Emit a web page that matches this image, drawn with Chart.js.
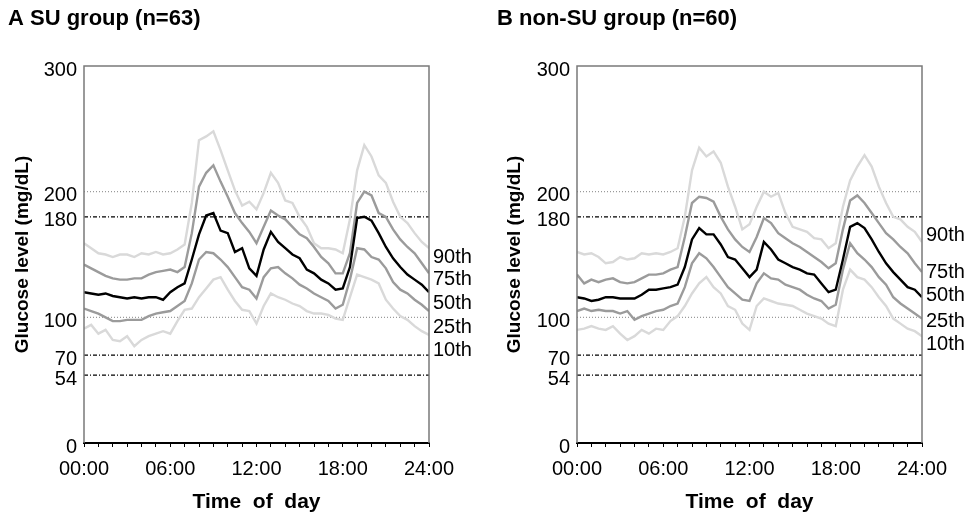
<!DOCTYPE html>
<html>
<head>
<meta charset="utf-8">
<style>
  body { margin: 0; width: 970px; height: 517px; overflow: hidden; background: #fff; }
  canvas { position: absolute; top: 0; }
  #chartA { left: 0; }
  #chartB { left: 493px; }
</style>
</head>
<body>
<canvas id="chartA" width="477" height="517"></canvas>
<canvas id="chartB" width="477" height="517"></canvas>
<script src="https://cdn.jsdelivr.net/npm/chart.js@4.4.1/dist/chart.umd.min.js"></script>
<script>
'use strict';

// time of day in hours, one reading per half hour
const hours = [0, 0.5, 1, 1.5, 2, 2.5, 3, 3.5, 4, 4.5, 5, 5.5, 6, 6.5, 7, 7.5, 8, 8.5, 9, 9.5, 10, 10.5, 11, 11.5, 12,
  12.5, 13, 13.5, 14, 14.5, 15, 15.5, 16, 16.5, 17, 17.5, 18, 18.5, 19, 19.5, 20, 20.5, 21, 21.5, 22, 22.5, 23, 23.5, 24];

const xTickLabels = ['00:00', '06:00', '12:00', '18:00', '24:00'];
const yTickValues = [0, 54, 70, 100, 180, 200, 300];
const percentileNames = ['90th', '75th', '50th', '25th', '10th'];

// A: SU group
const suP90 = [159, 155, 151, 150, 148, 150, 150, 148, 151, 150, 152, 150, 151, 154, 158, 191, 241, 244, 248, 233, 217, 201, 189, 192, 186,
  199, 215, 207, 193, 191, 180, 172, 159, 155, 155, 154, 151, 178, 217, 237, 228, 213, 207, 192, 180, 175, 167, 160, 155];
const suP75 = [142, 139, 136, 133, 131, 130, 130, 131, 131, 134, 136, 137, 138, 136, 140, 167, 204, 215, 221, 208, 196, 183, 175, 168, 159,
  172, 185, 181, 178, 172, 166, 163, 156, 148, 143, 135, 135, 151, 191, 200, 197, 183, 180, 170, 162, 156, 151, 143, 135];
const suP50 = [120, 119, 118, 119, 117, 116, 115, 116, 115, 116, 116, 114, 120, 124, 127, 146, 166, 181, 183, 169, 167, 152, 155, 139, 133,
  154, 168, 160, 155, 150, 147, 138, 135, 130, 127, 122, 123, 140, 179, 180, 177, 167, 156, 147, 140, 134, 130, 126, 120];
const suP25 = [107, 105, 103, 100, 97, 97, 98, 98, 98, 101, 103, 104, 105, 109, 113, 127, 146, 152, 151, 146, 140, 132, 124, 122, 115,
  132, 139, 140, 135, 131, 126, 123, 119, 116, 113, 107, 110, 130, 155, 154, 148, 146, 139, 128, 122, 119, 114, 110, 105];
const suP10 = [91, 94, 87, 90, 82, 81, 85, 77, 82, 85, 87, 89, 87, 97, 106, 107, 116, 123, 130, 132, 122, 113, 106, 105, 95,
  109, 119, 116, 114, 111, 109, 105, 103, 103, 102, 99, 98, 116, 134, 132, 130, 127, 114, 107, 101, 98, 93, 89, 86];

// B: non-SU group
const nonSuP90 = [152, 150, 151, 148, 143, 144, 148, 146, 147, 151, 150, 151, 150, 152, 155, 180, 217, 235, 228, 232, 223, 204, 188, 170, 174,
  188, 200, 196, 199, 183, 172, 170, 168, 163, 162, 155, 159, 188, 209, 220, 229, 220, 204, 191, 180, 178, 172, 168, 160];
const nonSuP75 = [134, 127, 130, 128, 130, 131, 128, 127, 128, 131, 134, 134, 135, 138, 140, 164, 191, 196, 195, 192, 180, 170, 162, 156, 152,
  164, 179, 175, 167, 163, 159, 156, 152, 148, 144, 139, 143, 170, 193, 197, 191, 183, 175, 167, 162, 156, 151, 143, 136];
const nonSuP50 = [116, 115, 113, 114, 116, 116, 115, 115, 115, 118, 122, 122, 123, 124, 126, 140, 162, 171, 166, 166, 158, 148, 146, 139, 132,
  138, 160, 154, 146, 143, 140, 138, 135, 134, 127, 120, 122, 146, 172, 175, 171, 162, 152, 143, 136, 130, 124, 122, 116];
const nonSuP25 = [105, 107, 105, 106, 105, 105, 103, 105, 98, 101, 103, 105, 106, 109, 111, 124, 143, 151, 147, 140, 132, 124, 119, 114, 113,
  127, 135, 131, 130, 126, 124, 122, 118, 115, 113, 107, 110, 138, 159, 151, 146, 140, 132, 126, 116, 111, 107, 103, 99];
const nonSuP10 = [90, 91, 93, 91, 90, 93, 87, 82, 85, 90, 87, 91, 90, 97, 101, 109, 119, 127, 132, 124, 119, 109, 106, 95, 90,
  109, 115, 113, 111, 110, 109, 106, 103, 101, 99, 95, 93, 122, 138, 132, 130, 124, 116, 109, 99, 95, 91, 89, 85];

// where the percentile names sit on the right, in mg/dL
const suLabelAt = [148, 130, 111, 92, 74];
const nonSuLabelAt = [165, 136, 117, 97, 78];

const refLines = [
  { value: 200, color: '#9a9a9a', dash: [1, 2] },
  { value: 100, color: '#9a9a9a', dash: [1, 2] },
  { value: 180, color: '#000', dash: [4, 2, 1, 2] },
  { value: 70, color: '#000', dash: [4, 2, 1, 2] },
  { value: 54, color: '#000', dash: [4, 2, 1, 2] }
];

const fontFamily = "'Liberation Sans', Arial, sans-serif";
const lightGray = '#d9d9d9';
const midGray = '#9b9b9b';

function lineSet(values, color, order) {
  return {
    data: hours.map((h, i) => ({ x: h, y: values[i] })),
    borderColor: color,
    borderWidth: 2.4,
    pointRadius: 0,
    tension: 0,
    fill: false,
    order: order
  };
}

function refSet(line) {
  return {
    data: [{ x: 0, y: line.value }, { x: 24, y: line.value }],
    borderColor: line.color,
    borderWidth: 1.2,
    borderDash: line.dash,
    pointRadius: 0,
    fill: false,
    order: 10
  };
}

// frame on top/left/right and the percentile names
const framePlugin = {
  id: 'frame',
  afterDraw(chart) {
    const ctx = chart.ctx;
    const a = chart.chartArea;
    ctx.save();
    ctx.strokeStyle = '#7a7a7a';
    ctx.lineWidth = 1.5;
    ctx.beginPath();
    ctx.moveTo(a.left, a.bottom);
    ctx.lineTo(a.left, a.top);
    ctx.lineTo(a.right, a.top);
    ctx.lineTo(a.right, a.bottom);
    ctx.stroke();

    ctx.fillStyle = '#000';
    ctx.font = '20px ' + fontFamily;
    ctx.textBaseline = 'middle';
    ctx.textAlign = 'left';
    let labelAt = chart.options.plugins.frame.labelAt;
    for (let i = 0; i < percentileNames.length; i++) {
      ctx.fillText(percentileNames[i], a.right + 4, chart.scales.y.getPixelForValue(labelAt[i]));
    }
    ctx.restore();
  }
};

function makePanel(canvasId, title, series, labelAt, padLeft, yTitlePad) {
  let datasets = [
    lineSet(series[2], '#000', 0),
    lineSet(series[1], midGray, 1),
    lineSet(series[3], midGray, 1),
    lineSet(series[0], lightGray, 2),
    lineSet(series[4], lightGray, 2)
  ];
  for (let i = 0; i < refLines.length; i++) {
    datasets.push(refSet(refLines[i]));
  }

  return new Chart(document.getElementById(canvasId), {
    type: 'line',
    data: { datasets: datasets },
    plugins: [framePlugin],
    options: {
      responsive: false,
      animation: false,
      layout: { padding: { left: padLeft, right: 48, top: 0, bottom: 0 } },
      plugins: {
        legend: { display: false },
        tooltip: { enabled: false },
        frame: { labelAt: labelAt },
        title: {
          display: true,
          text: title,
          align: 'start',
          color: '#000',
          font: { family: fontFamily, size: 22, weight: 'bold' },
          padding: { top: 6, bottom: 33.6 }
        }
      },
      scales: {
        x: {
          type: 'linear',
          min: 0,
          max: 24,
          afterFit: (s) => { s.height = 74; },
          ticks: {
            stepSize: 1,
            autoSkip: false,
            maxRotation: 0,
            padding: 10,
            color: '#000',
            font: { family: fontFamily, size: 20 },
            callback: (v) => (v % 6 === 0 ? xTickLabels[v / 6] : '')
          },
          grid: { drawOnChartArea: false, drawTicks: true, tickLength: 4, color: '#000', lineWidth: 1 },
          border: { color: '#000', width: 2 },
          title: {
            display: true,
            text: 'Time  of  day',
            color: '#000',
            font: { family: fontFamily, size: 21, weight: 'bold' },
            padding: { top: 0, bottom: 2 }
          }
        },
        y: {
          min: 0,
          max: 300,
          afterFit: (s) => { s.width = 84 - padLeft; },
          afterBuildTicks: (s) => { s.ticks = yTickValues.map((v) => ({ value: v })); },
          ticks: {
            padding: 7,
            labelOffset: 4,
            color: '#000',
            font: { family: fontFamily, size: 20 }
          },
          grid: { drawOnChartArea: false, drawTicks: false },
          border: { display: false },
          title: {
            display: true,
            text: 'Glucose level (mg/dL)',
            color: '#000',
            font: { family: fontFamily, size: 19, weight: 'bold' },
            padding: { top: yTitlePad, bottom: 0 }
          }
        }
      }
    }
  });
}

makePanel('chartA', 'A SU group (n=63)', [suP90, suP75, suP50, suP25, suP10], suLabelAt, 8, 3);
makePanel('chartB', 'B non-SU group (n=60)', [nonSuP90, nonSuP75, nonSuP50, nonSuP25, nonSuP10], nonSuLabelAt, 4, 6);
</script>
</body>
</html>
